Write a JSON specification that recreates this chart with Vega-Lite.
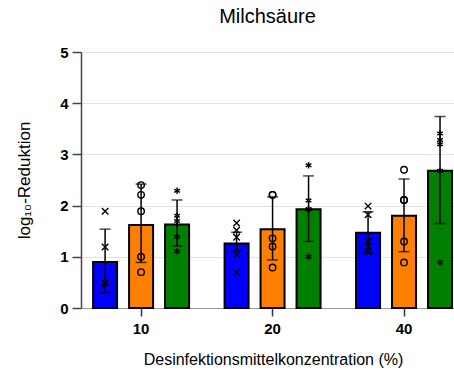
{
  "$schema": "https://vega.github.io/schema/vega-lite/v6.json",
  "width": 373,
  "height": 256,
  "autosize": "none",
  "padding": {"left": 81, "top": 52, "right": 0, "bottom": 64},
  "background": "white",
  "title": {"text": "Milchsäure", "font": "Liberation Sans", "fontSize": 20, "fontWeight": "normal", "color": "black", "anchor": "middle", "offset": 18},
  "config": {"view": {"stroke": null}, "font": "Liberation Sans"},
  "datasets": {
    "bars": [
      {"konz": "10", "serie": "S1", "mittel": 0.90, "lo": 0.30, "hi": 1.54},
      {"konz": "10", "serie": "S2", "mittel": 1.62, "lo": 0.89, "hi": 2.42},
      {"konz": "10", "serie": "S3", "mittel": 1.63, "lo": 1.21, "hi": 2.11},
      {"konz": "20", "serie": "S1", "mittel": 1.26, "lo": 1.12, "hi": 1.48},
      {"konz": "20", "serie": "S2", "mittel": 1.54, "lo": 0.94, "hi": 2.17},
      {"konz": "20", "serie": "S3", "mittel": 1.93, "lo": 1.30, "hi": 2.58},
      {"konz": "40", "serie": "S1", "mittel": 1.47, "lo": 1.08, "hi": 1.88},
      {"konz": "40", "serie": "S2", "mittel": 1.80, "lo": 1.10, "hi": 2.52},
      {"konz": "40", "serie": "S3", "mittel": 2.68, "lo": 1.65, "hi": 3.74}
    ],
    "punkte": [
      {"konz": "10", "serie": "S1", "wert": 1.89},
      {"konz": "10", "serie": "S1", "wert": 1.19},
      {"konz": "10", "serie": "S1", "wert": 0.50},
      {"konz": "10", "serie": "S1", "wert": 0.49},
      {"konz": "10", "serie": "S1", "wert": 0.48},
      {"konz": "10", "serie": "S2", "wert": 2.40},
      {"konz": "10", "serie": "S2", "wert": 2.21},
      {"konz": "10", "serie": "S2", "wert": 1.89},
      {"konz": "10", "serie": "S2", "wert": 1.00},
      {"konz": "10", "serie": "S2", "wert": 0.70},
      {"konz": "10", "serie": "S3", "wert": 2.29},
      {"konz": "10", "serie": "S3", "wert": 1.80},
      {"konz": "10", "serie": "S3", "wert": 1.70},
      {"konz": "10", "serie": "S3", "wert": 1.39},
      {"konz": "10", "serie": "S3", "wert": 1.11},
      {"konz": "20", "serie": "S1", "wert": 1.66},
      {"konz": "20", "serie": "S1", "wert": 1.52},
      {"konz": "20", "serie": "S1", "wert": 1.38},
      {"konz": "20", "serie": "S1", "wert": 1.05},
      {"konz": "20", "serie": "S1", "wert": 0.70},
      {"konz": "20", "serie": "S2", "wert": 2.21},
      {"konz": "20", "serie": "S2", "wert": 2.21},
      {"konz": "20", "serie": "S2", "wert": 1.36},
      {"konz": "20", "serie": "S2", "wert": 1.20},
      {"konz": "20", "serie": "S2", "wert": 0.79},
      {"konz": "20", "serie": "S3", "wert": 2.79},
      {"konz": "20", "serie": "S3", "wert": 2.10},
      {"konz": "20", "serie": "S3", "wert": 1.93},
      {"konz": "20", "serie": "S3", "wert": 1.93},
      {"konz": "20", "serie": "S3", "wert": 1.00},
      {"konz": "40", "serie": "S1", "wert": 1.99},
      {"konz": "40", "serie": "S1", "wert": 1.82},
      {"konz": "40", "serie": "S1", "wert": 1.30},
      {"konz": "40", "serie": "S1", "wert": 1.20},
      {"konz": "40", "serie": "S1", "wert": 1.10},
      {"konz": "40", "serie": "S2", "wert": 2.70},
      {"konz": "40", "serie": "S2", "wert": 2.11},
      {"konz": "40", "serie": "S2", "wert": 2.11},
      {"konz": "40", "serie": "S2", "wert": 1.30},
      {"konz": "40", "serie": "S2", "wert": 0.89},
      {"konz": "40", "serie": "S3", "wert": 3.41},
      {"konz": "40", "serie": "S3", "wert": 3.28},
      {"konz": "40", "serie": "S3", "wert": 3.20},
      {"konz": "40", "serie": "S3", "wert": 2.68},
      {"konz": "40", "serie": "S3", "wert": 0.89}
    ]
  },
  "encoding": {
    "x": {
      "field": "konz", "type": "nominal", "sort": ["10", "20", "40"],
      "scale": {"paddingInner": 0.27, "paddingOuter": 0.0535, "align": 0.86},
      "axis": {
        "title": "Desinfektionsmittelkonzentration (%)", "titleFont": "Liberation Sans", "titleFontSize": 16, "titleFontWeight": "normal", "titleColor": "black", "titlePadding": 15, "titleX": 192,
        "labelAngle": 0, "labelFont": "Liberation Sans", "labelFontSize": 15, "labelFontWeight": "bold", "labelColor": "black", "labelPadding": 5,
        "domainColor": "#999999", "domainWidth": 1, "tickColor": "#333333", "tickWidth": 1.5, "tickSize": 8
      }
    },
    "xOffset": {"field": "serie", "type": "nominal", "sort": ["S1", "S2", "S3"], "scale": {"paddingInner": 0.333, "paddingOuter": 0}}
  },
  "layer": [
    {
      "data": {"name": "bars"},
      "mark": {"type": "bar", "stroke": "black", "strokeWidth": 2},
      "encoding": {
        "y": {
          "field": "mittel", "type": "quantitative",
          "scale": {"domain": [0, 5], "nice": false},
          "axis": {
            "title": "log₁₀-Reduktion", "titleFont": "Liberation Sans", "titleFontSize": 17, "titleFontWeight": "normal", "titleColor": "black", "titlePadding": 26,
            "values": [0, 1, 2, 3, 4, 5], "format": "d",
            "labelFont": "Liberation Sans", "labelFontSize": 15, "labelFontWeight": "bold", "labelColor": "black", "labelPadding": 4,
            "grid": true, "gridColor": "#e2e2e2", "gridWidth": 1,
            "domainColor": "#444444", "domainWidth": 1.5, "tickColor": "#444444", "tickWidth": 1.5, "tickSize": 9
          }
        },
        "color": {"field": "serie", "type": "nominal", "scale": {"domain": ["S1", "S2", "S3"], "range": ["#0000ff", "#ff8000", "#008000"]}, "legend": null}
      }
    },
    {
      "data": {"name": "bars"},
      "mark": {"type": "rule", "color": "black", "strokeWidth": 1.5},
      "encoding": {
        "y": {"field": "lo", "type": "quantitative"},
        "y2": {"field": "hi"}
      }
    },
    {
      "data": {"name": "bars"},
      "mark": {"type": "tick", "color": "black", "thickness": 1.5, "size": 11},
      "encoding": {"y": {"field": "lo", "type": "quantitative"}}
    },
    {
      "data": {"name": "bars"},
      "mark": {"type": "tick", "color": "black", "thickness": 1.5, "size": 11},
      "encoding": {"y": {"field": "hi", "type": "quantitative"}}
    },
    {
      "data": {"name": "punkte"},
      "mark": {"type": "point", "filled": false, "color": "black", "strokeWidth": 1.4, "size": 42, "opacity": 1},
      "encoding": {
        "y": {"field": "wert", "type": "quantitative"},
        "shape": {"field": "serie", "type": "nominal", "scale": {"domain": ["S1", "S2", "S3"], "range": ["M-1,-1L1,1M-1,1L1,-1", "circle", "M0,-1L0,1M-0.87,-0.5L0.87,0.5M-0.87,0.5L0.87,-0.5"]}, "legend": null}
      }
    }
  ]
}
